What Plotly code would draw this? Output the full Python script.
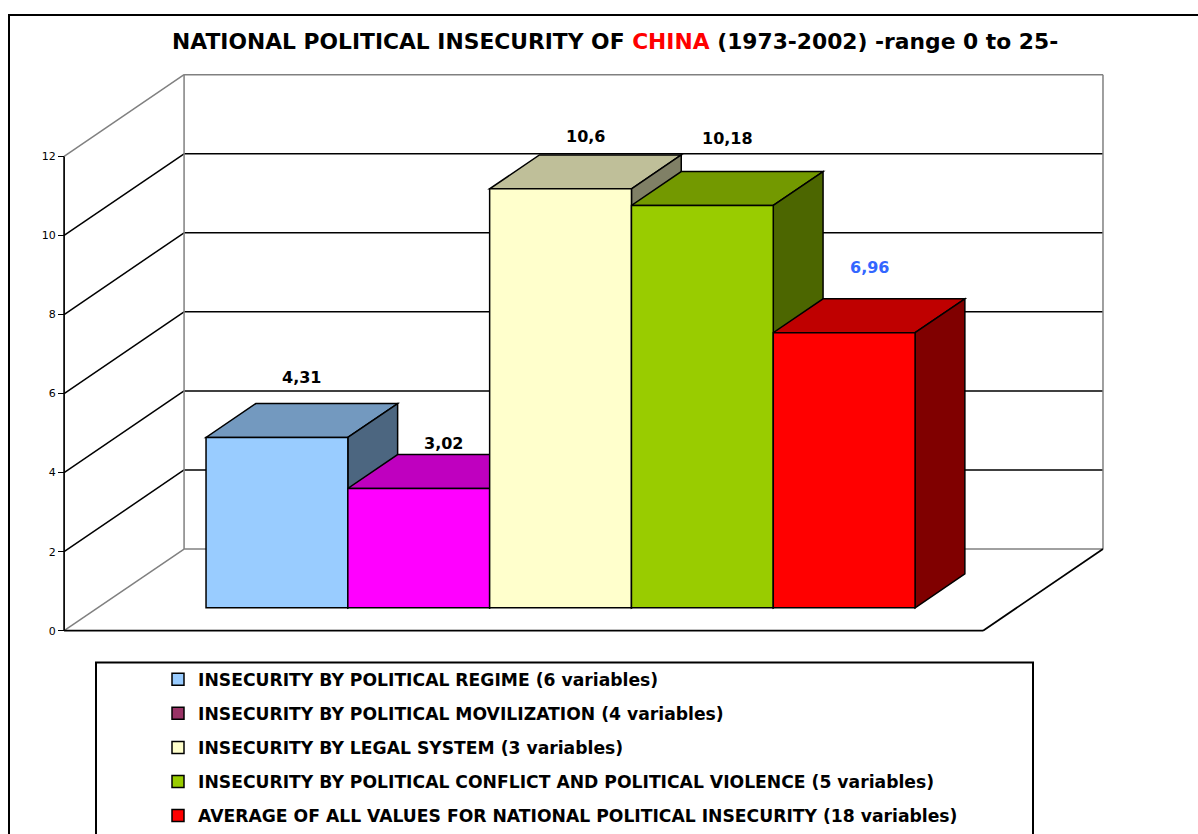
import plotly.graph_objects as go

# ---------------- data ----------------
series_names = [
    "INSECURITY BY POLITICAL REGIME (6 variables)",
    "INSECURITY BY POLITICAL MOVILIZATION (4 variables)",
    "INSECURITY BY LEGAL SYSTEM (3 variables)",
    "INSECURITY BY POLITICAL CONFLICT AND POLITICAL VIOLENCE (5 variables)",
    "AVERAGE OF ALL VALUES FOR NATIONAL POLITICAL INSECURITY (18 variables)",
]
values = [4.31, 3.02, 10.6, 10.18, 6.96]
value_labels = ["4,31", "3,02", "10,6", "10,18", "6,96"]
tick_values = [0, 2, 4, 6, 8, 10, 12]
tick_labels = ["0", "2", "4", "6", "8", "10", "12"]

# ---------------- style ----------------
front_colors = ["#99CCFF", "#FF00FF", "#FFFFCC", "#99CC00", "#FF0000"]
legend_colors = ["#99CCFF", "#993366", "#FFFFCC", "#99CC00", "#FF0000"]
label_colors = ["black", "black", "black", "black", "#3366FF"]
label_lift = [1.09, 0.71, 0.90, 1.27, 1.21]   # label gap above top face (value units)

W, H = 1198, 834
X_RANGE = [-1.716, 6.732]
Y_RANGE = [-5.067, 15.957]
DX, DY = 0.846, 2.067          # full depth of the 3D box, in axis units
F, B = 0.28, 0.695             # bar front / back depth fractions
FLOOR_X0, FLOOR_X1 = -1.264, 5.216
AXIS_MAX = 12
FONT = "DejaVu Sans"
GRAY = "#808080"
LW = 1.5


def shade(hexcol, k):
    h = hexcol.lstrip("#")
    r, g, b = (int(h[i:i + 2], 16) for i in (0, 2, 4))
    return "#%02X%02X%02X" % (round(r * k), round(g * k), round(b * k))


def path(points):
    return "M " + " L ".join(f"{x:.4f},{y:.4f}" for x, y in points) + " Z"


shapes = []


def line(x0, y0, x1, y1, color="black", width=LW):
    shapes.append(dict(type="line", x0=x0, y0=y0, x1=x1, y1=y1, xref="x", yref="y",
                       line=dict(color=color, width=width), layer="below"))


# back wall + side wall gridlines
bx0, bx1 = FLOOR_X0 + DX, FLOOR_X1 + DX
for v in tick_values:
    col = GRAY if v in (0, AXIS_MAX) else "black"
    line(FLOOR_X0, v, bx0, v + DY, col)
    line(bx0, v + DY, bx1, v + DY, col)
line(bx0, DY, bx0, AXIS_MAX + DY, GRAY)
line(bx1, DY, bx1, AXIS_MAX + DY, GRAY)
# floor edges + front axis line
line(FLOOR_X0, 0, FLOOR_X1, 0, "black", 1.7)
line(FLOOR_X1, 0, bx1, DY, "black", 1.7)
line(FLOOR_X0, 0, FLOOR_X0, AXIS_MAX, "black", 1.7)

# bar top and side faces (painter's order left to right)
for i, v in enumerate(values):
    xl, xr = i - 0.5, i + 0.5
    top = [(xl + F * DX, v + F * DY), (xr + F * DX, v + F * DY),
           (xr + B * DX, v + B * DY), (xl + B * DX, v + B * DY)]
    side = [(xr + F * DX, F * DY), (xr + B * DX, B * DY),
            (xr + B * DX, v + B * DY), (xr + F * DX, v + F * DY)]
    shapes.append(dict(type="path", path=path(top), xref="x", yref="y",
                       fillcolor=shade(front_colors[i], 0.75),
                       line=dict(color="black", width=LW), layer="below"))
    shapes.append(dict(type="path", path=path(side), xref="x", yref="y",
                       fillcolor=shade(front_colors[i], 0.5),
                       line=dict(color="black", width=LW), layer="below"))

# outer chart border and legend box (paper coords)
shapes.append(dict(type="rect", xref="paper", yref="paper",
                   x0=9 / W, x1=1.02, y0=-0.02, y1=1 - 15 / H,
                   line=dict(color="black", width=2), fillcolor="rgba(0,0,0,0)"))
shapes.append(dict(type="rect", xref="paper", yref="paper",
                   x0=96 / W, x1=1033 / W, y0=-0.02, y1=1 - 665 / H,
                   line=dict(color="black", width=2), fillcolor="rgba(0,0,0,0)"))

fig = go.Figure()

# front faces of bars
fig.add_trace(go.Bar(
    x=[i + F * DX for i in range(len(values))],
    y=values,
    base=[F * DY] * len(values),
    width=[1.0] * len(values),
    marker=dict(color=front_colors, line=dict(color="black", width=LW)),
    showlegend=False, hoverinfo="skip",
))

# legend entries
for i, name in enumerate(series_names):
    fig.add_trace(go.Scatter(
        x=[None], y=[None], mode="markers", name=name, legendgroup=f"g{i}",
        marker=dict(symbol="square", size=12, color=legend_colors[i],
                    line=dict(color="black", width=1.5)),
    ))

annotations = []
for i, v in enumerate(values):
    annotations.append(dict(
        x=i + (F + B) / 2 * DX, y=v + (F + B) / 2 * DY + label_lift[i],
        xref="x", yref="y", text=f"<b>{value_labels[i]}</b>", showarrow=False,
        font=dict(family=FONT, size=16, color=label_colors[i]),
        xanchor="center", yanchor="middle",
    ))
annotations.append(dict(
    x=615 / W, y=1 - 42 / H, xref="paper", yref="paper", showarrow=False,
    xanchor="center", yanchor="middle",
    text="<b>NATIONAL POLITICAL INSECURITY OF <span style='color:#FF0000'>CHINA</span>"
         " (1973-2002) -range 0 to 25-</b>",
    font=dict(family=FONT, size=21.8, color="black"),
))

fig.update_layout(
    width=W, height=H, autosize=False, margin=dict(l=0, r=0, t=0, b=0, pad=0),
    paper_bgcolor="white", plot_bgcolor="white",
    barmode="overlay", bargap=0,
    shapes=shapes, annotations=annotations,
    showlegend=True,
    legend=dict(x=158 / W, y=1 - 664 / H, xanchor="left", yanchor="top",
                traceorder="grouped", tracegroupgap=8.7,
                font=dict(family=FONT, size=17.2, color="black", weight="bold"),
                bgcolor="rgba(0,0,0,0)", borderwidth=0, itemclick=False),
    xaxis=dict(range=X_RANGE, visible=False, fixedrange=True),
    yaxis=dict(range=Y_RANGE, anchor="free", position=64 / W, side="left",
               tickvals=tick_values, ticktext=tick_labels,
               ticks="outside", ticklen=6, tickcolor="black", tickwidth=1,
               showline=False, showgrid=False, zeroline=False, automargin=False,
               tickfont=dict(family=FONT, size=11, color="black"), fixedrange=True),
    font=dict(family=FONT),
)

post = (
    "var d=document.getElementById('{plot_id}');"
    "d.style.position='fixed';d.style.top='0px';d.style.left='0px';"
    "document.body.style.margin='0px';"
    "document.body.style.overflow='hidden';"
    "document.documentElement.style.overflow='hidden';"
)
fig.write_html(
    "out.html",
    config={"responsive": False, "displayModeBar": False, "staticPlot": True},
    post_script=post,
)
